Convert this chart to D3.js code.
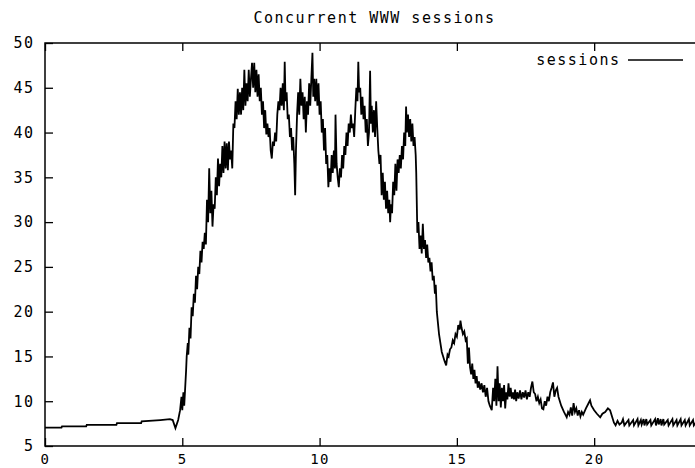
<!DOCTYPE html>
<html>
<head>
<meta charset="utf-8">
<script src="https://cdn.jsdelivr.net/npm/d3@7"></script>
<style>
  body { margin: 0; background: #fff; }
  text { font-family: "DejaVu Sans Mono", monospace; font-size: 15px; letter-spacing: 1.5px; fill: #000; }
</style>
</head>
<body>
<div id="chart"></div>
<script>
var WIDTH = 695, HEIGHT = 468;

const title = "Concurrent WWW sessions";
const seriesName = "sessions";
const xTicks = [0, 5, 10, 15, 20];
const yTicks = [5, 10, 15, 20, 25, 30, 35, 40, 45, 50];

// hours of the day (x) and concurrent sessions (y)
const hours = [
  0, 0.6, 0.62, 1.5, 1.52, 2.6, 2.62, 3.5, 3.52, 4.2, 4.55, 4.65, 4.75, 4.85, 4.92, 4.97, 5.0, 5.04, 5.07, 5.1,
  5.14, 5.16, 5.2, 5.22, 5.26, 5.3, 5.34, 5.38, 5.42, 5.46, 5.5, 5.54, 5.58, 5.62, 5.66, 5.7, 5.74, 5.78, 5.82, 5.86,
  5.9, 5.94, 5.98, 6.02, 6.06, 6.1, 6.14, 6.18, 6.22, 6.26, 6.3, 6.34, 6.38, 6.42, 6.46, 6.5, 6.54, 6.58, 6.62, 6.66,
  6.7, 6.74, 6.78, 6.82, 6.86, 6.9, 6.94, 6.98, 7.02, 7.06, 7.1, 7.14, 7.18, 7.22, 7.26, 7.3, 7.34, 7.38, 7.42, 7.46,
  7.5, 7.54, 7.58, 7.62, 7.66, 7.7, 7.74, 7.78, 7.82, 7.86, 7.9, 7.94, 7.98, 8.02, 8.06, 8.1, 8.14, 8.18, 8.22, 8.26,
  8.3, 8.34, 8.38, 8.42, 8.46, 8.5, 8.54, 8.58, 8.62, 8.66, 8.7, 8.73, 8.76, 8.8, 8.84, 8.88, 8.92, 8.96, 9.0, 9.04,
  9.08, 9.11, 9.14, 9.18, 9.22, 9.26, 9.3, 9.34, 9.38, 9.42, 9.46, 9.5, 9.54, 9.58, 9.62, 9.66, 9.7, 9.74, 9.77, 9.8,
  9.84, 9.88, 9.92, 9.96, 10.0, 10.04, 10.08, 10.12, 10.16, 10.2, 10.24, 10.28, 10.32, 10.36, 10.4, 10.44, 10.48, 10.52, 10.56, 10.58,
  10.62, 10.66, 10.7, 10.74, 10.78, 10.82, 10.86, 10.9, 10.94, 10.98, 11.02, 11.06, 11.1, 11.14, 11.18, 11.22, 11.26, 11.3, 11.34, 11.38,
  11.41, 11.44, 11.48, 11.52, 11.56, 11.6, 11.64, 11.68, 11.72, 11.76, 11.8, 11.84, 11.87, 11.9, 11.94, 11.98, 12.02, 12.06, 12.1, 12.14,
  12.18, 12.22, 12.26, 12.3, 12.34, 12.38, 12.42, 12.46, 12.5, 12.54, 12.57, 12.6, 12.64, 12.68, 12.72, 12.76, 12.8, 12.84, 12.88, 12.92,
  12.96, 13.0, 13.04, 13.08, 13.12, 13.15, 13.18, 13.22, 13.26, 13.3, 13.34, 13.38, 13.42, 13.46, 13.5, 13.52, 13.56, 13.6, 13.64, 13.68,
  13.72, 13.76, 13.8, 13.84, 13.88, 13.92, 13.96, 14.0, 14.04, 14.08, 14.12, 14.16, 14.2, 14.23, 14.27, 14.35, 14.45, 14.55, 14.61, 14.66,
  14.7, 14.75, 14.8, 14.85, 14.9, 14.95, 15.0, 15.05, 15.1, 15.13, 15.17, 15.22, 15.27, 15.32, 15.36, 15.4, 15.44, 15.48, 15.52, 15.56,
  15.6, 15.64, 15.68, 15.72, 15.76, 15.8, 15.85, 15.9, 15.95, 16.0, 16.05, 16.1, 16.15, 16.2, 16.27, 16.32, 16.36, 16.4, 16.44, 16.48,
  16.52, 16.56, 16.6, 16.64, 16.68, 16.72, 16.76, 16.8, 16.84, 16.88, 16.92, 16.96, 17.0, 17.04, 17.08, 17.12, 17.16, 17.2, 17.25, 17.3,
  17.35, 17.4, 17.45, 17.5, 17.55, 17.6, 17.65, 17.7, 17.75, 17.8, 17.85, 17.9, 17.95, 18.0, 18.05, 18.1, 18.15, 18.2, 18.25, 18.3,
  18.35, 18.4, 18.45, 18.5, 18.55, 18.6, 18.65, 18.7, 18.8, 18.9, 19.0, 19.05, 19.1, 19.15, 19.2, 19.25, 19.3, 19.35, 19.4, 19.45,
  19.5, 19.55, 19.6, 19.7, 19.8, 19.85, 19.9, 20.0, 20.1, 20.22, 20.3, 20.4, 20.5, 20.58, 20.65, 20.72, 20.78, 20.85, 20.92, 21.0,
  21.05, 21.1, 21.25, 21.28, 21.42, 21.45, 21.58, 21.61, 21.7, 21.73, 21.8, 21.83, 21.9, 21.93, 22.05, 22.08, 22.22, 22.25, 22.32, 22.35,
  22.42, 22.45, 22.52, 22.55, 22.68, 22.71, 22.85, 22.88, 23.0, 23.03, 23.15, 23.18, 23.3, 23.33, 23.45, 23.48, 23.6, 23.63, 23.75
];
const sessions = [
  7.05, 7.05, 7.2, 7.2, 7.35, 7.35, 7.55, 7.55, 7.75, 7.9, 8.0, 7.9, 7.0, 7.9, 9.0, 10.5, 9.0, 11.0, 9.5, 11.2,
  13.5, 15.0, 16.5, 15.2, 18.2, 17.0, 20.5, 19.5, 22.0, 21.0, 24.0, 22.5, 25.0, 24.2, 26.8, 25.5, 27.8, 27.0, 28.8, 27.5,
  32.5, 30.0, 36.0, 31.0, 33.5, 29.5, 32.0, 31.5, 35.0, 33.0, 37.1, 34.0, 36.5, 35.0, 38.5, 35.5, 39.0, 36.0, 38.8, 35.8,
  39.0, 37.0, 38.0, 36.0, 41.0, 40.5, 43.5, 41.5, 44.9, 42.0, 44.5, 42.0, 45.0, 42.5, 47.0, 43.0, 45.5, 43.5, 47.0, 44.0,
  46.0, 47.8, 45.0, 47.8, 44.5, 47.0, 44.0, 46.5, 43.5, 45.0, 42.0, 43.5, 40.5, 42.5, 39.8, 41.0, 39.5, 40.5, 38.0, 37.1,
  39.0, 38.5, 40.0, 39.0, 42.0, 43.5, 42.5, 45.0, 43.0, 45.5, 42.5, 47.9, 43.5, 44.5, 41.5, 42.0, 39.5, 40.5, 38.0, 39.5,
  36.5, 33.0, 38.0, 42.0, 44.5, 42.0, 46.0, 43.0, 44.5, 41.5, 44.0, 40.0, 43.5, 42.0, 45.5, 43.0, 46.0, 48.9, 44.0, 46.0,
  43.5, 46.0, 43.0, 45.5, 42.0, 43.5, 40.0, 41.5, 38.0, 40.5, 36.5, 37.5, 33.9, 36.0, 34.5, 37.5, 35.5, 38.0, 36.0, 42.0,
  36.5, 35.0, 33.9, 36.0, 35.0, 37.5, 36.0, 38.5, 37.5, 40.0, 38.5, 41.0, 40.0, 42.0, 40.5, 41.0, 39.5, 42.5, 45.0, 43.5,
  47.9, 44.5, 45.0, 42.0, 44.0, 41.5, 43.0, 40.0, 41.5, 38.5, 40.0, 46.9, 41.0, 43.0, 40.0, 42.5, 39.5, 43.5, 40.5, 38.0,
  36.5, 37.5, 33.0, 35.5, 32.5, 34.5, 31.5, 33.5, 31.0, 32.5, 30.0, 32.0, 31.0, 34.5, 33.0, 36.5, 33.5, 37.0, 35.5, 37.5,
  36.0, 38.5, 37.0, 40.0, 38.5, 42.9, 40.0, 42.0, 39.5, 41.5, 39.0, 41.0, 38.5, 39.5, 37.5, 35.5, 28.8, 30.0, 27.0, 28.5,
  26.5, 29.8, 27.0, 28.0, 26.0, 27.5, 25.5, 26.0, 24.5, 25.5, 23.5, 24.0, 22.0, 23.0, 20.0, 17.5, 15.5, 14.5, 14.0, 15.2,
  15.0, 15.8, 16.0, 16.8, 16.5, 17.5, 17.2, 18.5, 18.0, 19.0, 18.2, 17.5, 17.8, 16.8, 17.0, 14.2, 16.0, 13.8, 13.0, 14.2,
  12.5, 13.5, 12.0, 12.8, 11.5, 12.2, 11.3, 12.0, 11.0, 11.8, 10.5, 11.5, 10.0, 9.5, 9.0, 11.5, 10.0, 12.5, 9.5, 13.9,
  10.0, 12.0, 9.3, 11.5, 10.0, 11.8, 9.2, 11.0, 10.2, 12.0, 10.5, 11.5, 10.3, 11.0, 10.2, 11.3, 10.0, 11.0, 10.3, 11.2,
  10.2, 11.0, 10.4, 11.2, 10.2, 11.0, 10.5, 11.5, 12.2, 11.0, 10.8, 10.0, 10.5, 9.8, 10.2, 9.2, 9.1, 10.0, 9.5, 10.5,
  10.0, 11.0, 11.5, 12.1, 10.5, 11.2, 11.5, 10.5, 9.5, 8.8, 8.2, 8.8, 8.5, 9.3, 8.4, 9.8, 8.8, 9.2, 8.4, 9.0,
  8.3, 8.8, 8.5, 9.2, 9.8, 10.1, 9.5, 9.0, 8.6, 8.2, 8.6, 8.8, 9.2, 9.0, 8.3, 7.6, 7.3, 7.8, 7.4, 7.6,
  8.0, 7.3, 7.9, 7.3, 7.9, 7.3, 8.0, 7.3, 7.9, 7.4, 8.0, 7.3, 8.0, 7.4, 7.9, 7.3, 8.0, 7.3, 8.1, 7.4,
  8.0, 7.3, 8.0, 7.4, 7.9, 7.3, 8.0, 7.3, 7.9, 7.3, 8.0, 7.3, 7.9, 7.3, 8.0, 7.3, 7.9, 7.3, 7.8
];

var LEFT = 45, TOP = 43, BOTTOM = 446, RIGHT = 704;

const svg = d3.select("#chart").append("svg").attr("width", WIDTH).attr("height", HEIGHT)

const x_scale = d3.scaleLinear().domain([0, 24]).range([LEFT, RIGHT])
const y_scale = d3.scaleLinear().domain([5, 50]).range([BOTTOM, TOP])

// title
svg.append("text").attr("x", (LEFT + RIGHT) / 2).attr("y", 23).attr("text-anchor", "middle").text(title)

// axes, gnuplot style: ticks point inwards and are mirrored
const gen_x = d3.axisBottom(x_scale).tickValues(xTicks).tickSize(-8).tickSizeOuter(0).tickPadding(8)
const gen_y = d3.axisLeft(y_scale).tickValues(yTicks).tickSize(-8).tickSizeOuter(0).tickPadding(10.5)
const gen_x_top = d3.axisTop(x_scale).tickValues(xTicks).tickSize(-8).tickSizeOuter(0).tickFormat("")
const gen_y_right = d3.axisRight(y_scale).tickValues(yTicks).tickSize(-8).tickSizeOuter(0).tickFormat("")

svg.append("g").attr("class", "x axis bottom").attr("transform", "translate(0," + BOTTOM + ")").call(gen_x)
svg.append("g").attr("class", "y axis").attr("transform", "translate(" + LEFT + ",0)").call(gen_y)
svg.append("g").attr("class", "x axis").attr("transform", "translate(0," + TOP + ")").call(gen_x_top)
svg.append("g").attr("class", "y axis").attr("transform", "translate(" + RIGHT + ",0)").call(gen_y_right)

svg.selectAll(".axis .domain").remove()
svg.selectAll(".axis line").attr("stroke", "#000").attr("stroke-width", 1.3)
svg.selectAll(".axis text").attr("font-family", null).attr("font-size", null).attr("fill", "#000")
svg.selectAll(".bottom text").style("font-size", "14px")

// border
svg.append("rect").attr("x", LEFT).attr("y", TOP).attr("width", RIGHT - LEFT).attr("height", BOTTOM - TOP)
  .attr("fill", "none").attr("stroke", "#000").attr("stroke-width", 1.5)

// the series
const points = hours.map((h, i) => [h, sessions[i]])
const line = d3.line().x(d => x_scale(d[0])).y(d => y_scale(d[1]))
svg.append("path").datum(points).attr("d", line).attr("fill", "none").attr("stroke", "#000")
  .attr("stroke-width", 1.8).attr("stroke-linejoin", "miter")

// legend
const legend = svg.append("g").attr("id", "legend")
legend.append("text").attr("x", 620.5).attr("y", 65).attr("text-anchor", "end").text(seriesName)
legend.append("line").attr("x1", 628).attr("x2", 683).attr("y1", 60).attr("y2", 60)
  .attr("stroke", "#000").attr("stroke-width", 1.5)
</script>
</body>
</html>
